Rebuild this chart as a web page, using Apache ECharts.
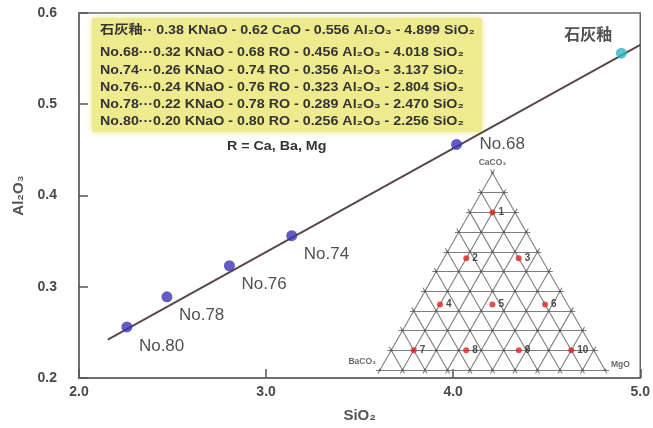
<!DOCTYPE html>
<html><head><meta charset="utf-8">
<script src="https://cdn.jsdelivr.net/npm/echarts@6/dist/echarts.min.js"></script>
<style>html,body{margin:0;padding:0;background:#fff}#c{width:653px;height:428px}</style>
</head><body><div id="c"></div>
<script>
// ---- data ----
const glazeNames = ['石灰釉', 'No.68', 'No.74', 'No.76', 'No.78', 'No.80'];
const kNaO = [0.38, 0.32, 0.26, 0.24, 0.22, 0.20];
const roValues = [0.62, 0.68, 0.74, 0.76, 0.78, 0.80];
const roNames = ['CaO', 'RO', 'RO', 'RO', 'RO', 'RO'];
const al2o3 = [0.556, 0.456, 0.356, 0.323, 0.289, 0.256];
const sio2 = [4.899, 4.018, 3.137, 2.804, 2.470, 2.256];
const trendX = [2.154, 5.0];
const trendY = [0.242, 0.565];
const xTicks = [2.0, 3.0, 4.0, 5.0];
const yTicks = [0.2, 0.3, 0.4, 0.5, 0.6];
const noteR = 'R = Ca, Ba, Mg';
// ternary inset (CaCO3 top, BaCO3 left, MgO right)
const ternLabels = ['1', '2', '3', '4', '5', '6', '7', '8', '9', '10'];
const ternCa = [0.8, 0.567, 0.567, 0.333, 0.333, 0.333, 0.1, 0.1, 0.1, 0.1];
const ternMg = [0.1, 0.1, 0.333, 0.1, 0.333, 0.567, 0.1, 0.333, 0.567, 0.8];
const ternVertices = ['CaCO₃', 'BaCO₃', 'MgO'];
const ternDivisions = 10;

// ---- helpers ----
const FONT = 'Liberation Sans, Arial, DejaVu Sans, Noto Sans CJK JP, sans-serif';
function t2c(ca, mg) { return [mg + ca / 2, ca]; }

const gridLines = [];
const eps = 0.018;
for (let k = 0; k < ternDivisions; k++) {
  const c = k / ternDivisions;
  gridLines.push({ coords: [t2c(c, -eps), t2c(c, 1 - c + eps)] });      // const Ca
  gridLines.push({ coords: [t2c(-eps, c), t2c(1 - c + eps, c)] });      // const Mg
  gridLines.push({ coords: [t2c(-eps, 1 - c + eps), t2c(1 - c + eps, -eps)] }); // const Ba
}
const nodes = [];
for (let i = 0; i <= ternDivisions; i++)
  for (let j = 0; i + j <= ternDivisions; j++)
    nodes.push(t2c(i / ternDivisions, j / ternDivisions));

const legendLines = glazeNames.map((n, i) =>
  n + (i === 0 ? '·· ' : '···') + kNaO[i].toFixed(2) + ' KNaO - ' + roValues[i].toFixed(2) + ' ' + roNames[i] +
  ' - ' + al2o3[i].toFixed(3) + ' Al₂O₃ - ' + sio2[i].toFixed(3) + ' SiO₂');

const labelOffsets = [[-27.5, -12.5, 'center'], [28.5, 5.5, 'left'], [17.5, 24.5, 'left'], [17.5, 24.5, 'left'], [17.5, 24.5, 'left'], [17.5, 24.5, 'left']];
const glazeData = glazeNames.map((n, i) => ({
  name: n,
  value: [sio2[i], al2o3[i]],
  symbolSize: 11,
  itemStyle: { color: i === 0 ? '#33b6c6' : '#3b33b5' },
  label: {
    show: true, formatter: n,
    position: [labelOffsets[i][0], labelOffsets[i][1]],
    align: labelOffsets[i][2], verticalAlign: 'middle',
    fontSize: i === 0 ? 16 : 17, fontWeight: i === 0 ? 'bold' : 'normal',
    color: '#262626', fontFamily: FONT
  }
}));

const legendY = [31, 53, 70.5, 88, 105, 122];
const textEls = legendLines.map((t, i) => ({
  type: 'text', x: 100, y: legendY[i], z: 10, scaleX: 1.14,
  style: { text: t, font: 'bold 12.5px ' + FONT, fill: '#333', textVerticalAlign: 'middle', textAlign: 'left' }
}));

const chart = echarts.init(document.getElementById('c'));
chart.setOption({
  backgroundColor: '#fff',
  animation: false,
  grid: [
    { left: 79, right: 10, top: 13, bottom: 46, show: true, borderColor: '#666', borderWidth: 1.5 },
    { left: 380, top: 173, width: 225, height: 197 }
  ],
  xAxis: [
    {
      type: 'value', min: xTicks[0], max: xTicks[xTicks.length - 1], interval: 1,
      name: 'SiO₂', nameLocation: 'middle', nameGap: 30,
      nameTextStyle: { fontSize: 15, fontWeight: 'bold', color: '#555', fontFamily: FONT },
      axisLine: { lineStyle: { color: '#666', width: 1.5 } },
      axisTick: { inside: true, length: 9, lineStyle: { color: '#555', width: 1.5 } },
      axisLabel: { margin: 7, fontSize: 14, fontWeight: 'bold', color: '#4a4a4a', fontFamily: FONT, formatter: v => v.toFixed(1) },
      splitLine: { show: false }
    },
    { gridIndex: 1, type: 'value', min: 0, max: 1, show: false }
  ],
  yAxis: [
    {
      type: 'value', min: yTicks[0], max: yTicks[yTicks.length - 1], interval: 0.1,
      name: 'Al₂O₃', nameLocation: 'middle', nameGap: 52, nameRotate: 90,
      nameTextStyle: { fontSize: 15, fontWeight: 'bold', color: '#555', fontFamily: FONT },
      axisLine: { lineStyle: { color: '#666', width: 1.5 } },
      axisTick: { inside: true, length: 9, lineStyle: { color: '#555', width: 1.5 } },
      axisLabel: { margin: 22, fontSize: 14, fontWeight: 'bold', color: '#4a4a4a', fontFamily: FONT, formatter: v => v.toFixed(1) },
      splitLine: { show: false }
    },
    { gridIndex: 1, type: 'value', min: 0, max: 1, show: false }
  ],
  graphic: [
    { type: 'rect', shape: { x: 92, y: 18, width: 390, height: 114, r: 2 },
      style: { fill: '#eeeb8e', shadowColor: 'rgba(230,226,120,0.9)', shadowBlur: 6 }, z: 1 }
  ].concat(textEls).concat([
    { type: 'text', x: 227, y: 147, z: 10, scaleX: 1.14,
      style: { text: noteR, font: 'bold 12.5px ' + FONT, fill: '#333', textVerticalAlign: 'middle' } }
  ]),
  series: [
    {
      type: 'line', data: trendX.map((x, i) => [x, trendY[i]]), symbol: 'none',
      lineStyle: { color: '#5a4848', width: 2 }, z: 3, silent: true
    },
    {
      type: 'scatter', data: glazeData, z: 4, silent: true
    },
    {
      type: 'lines', coordinateSystem: 'cartesian2d', xAxisIndex: 1, yAxisIndex: 1,
      data: gridLines, lineStyle: { color: '#7e7e7e', width: 1.1, opacity: 1, curveness: 0 },
      silent: true, z: 2, clip: false
    },
    {
      type: 'scatter', xAxisIndex: 1, yAxisIndex: 1, data: nodes, symbolSize: 2.5,
      itemStyle: { color: '#555' }, silent: true, z: 3, clip: false
    },
    {
      type: 'scatter', xAxisIndex: 1, yAxisIndex: 1, z: 5, silent: true, clip: false,
      data: ternLabels.map((l, i) => ({ name: l, value: t2c(ternCa[i], ternMg[i]) })),
      symbolSize: 6, itemStyle: { color: '#e02424' },
      label: { show: true, position: 'right', distance: 3, formatter: p => p.name, fontSize: 10, fontWeight: 'bold', color: '#222', fontFamily: FONT }
    },
    {
      type: 'scatter', xAxisIndex: 1, yAxisIndex: 1, z: 5, silent: true, clip: false, symbolSize: 0,
      data: [
        { value: t2c(1, 0), label: { formatter: ternVertices[0], position: [0, -10], align: 'center' } },
        { value: t2c(0, 0), label: { formatter: ternVertices[1], position: [-4, -8], align: 'right' } },
        { value: t2c(0, 1), label: { formatter: ternVertices[2], position: [6, -5], align: 'left' } }
      ],
      label: { show: true, verticalAlign: 'middle', fontSize: 8.5, fontWeight: 'bold', color: '#444', fontFamily: FONT }
    }
  ]
});
</script>
</body></html>
